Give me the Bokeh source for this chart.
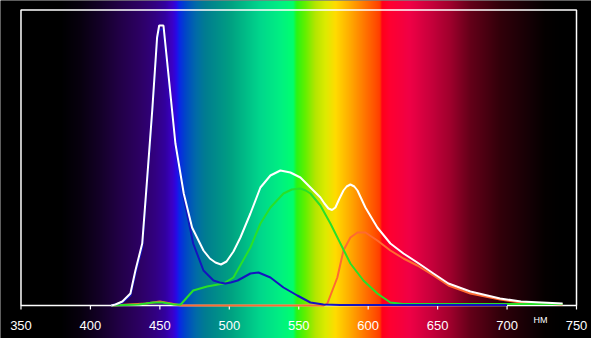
import numpy as np
from bokeh.plotting import figure
from bokeh.models import Range1d
from bokeh.core.properties import value
from bokeh.embed import file_html
from bokeh.resources import INLINE

# ---- data (wavelength in nm, intensity in arbitrary units) ----
white_nm = [415, 418, 423, 428.8, 432.4, 437.3, 440.9, 444.5, 448, 449.5, 452.6, 456.4, 461.2,
            467.2, 473.2, 481.4, 486, 490, 494, 498, 503, 508, 515.2, 522.4, 529.6, 536.8, 544,
            551.2, 558.4, 565.6, 568.5, 571.4, 574, 576.4, 579, 582.2, 584.5, 587.2, 590, 592.3,
            598, 606.6, 616, 625.4, 635.4, 647, 657.8, 673.6, 695, 710, 725, 740]
white_val = [0, 1, 4, 12, 35, 62, 128, 195, 268, 280, 280, 228, 162,
             112, 78, 55, 47, 43, 41, 44, 54, 68, 92, 118, 130, 135, 133,
             128, 118, 108, 102, 97, 95.5, 98, 106, 115, 119, 121, 119, 115,
             98, 78, 62, 52, 43, 32, 22, 14, 7, 4, 3, 2]

blue_nm = [415, 423, 428.8, 432.4, 437.3, 440.9, 444.5, 448, 449.5, 452.6, 456.4, 461.2, 467.2,
           474, 481.4, 488.6, 493, 497.2, 501, 506, 515.2, 521, 529.6, 539, 549, 558.4, 567.8,
           580, 700]
blue_val = [0, 3, 10, 32, 58, 124, 191, 264, 276, 276, 225, 160, 108,
            62, 35, 25, 23, 22, 23, 25, 32, 33, 28, 18, 10, 3, 1,
            0.5, 0.5]

green_nm = [415, 435, 445, 452, 460, 465, 474, 484, 495.8, 503, 515.2, 522.4, 529.6, 539, 545,
            551.2, 555, 558.4, 565.6, 572.8, 580, 587.2, 596.6, 606.6, 616, 625, 740]
green_val = [0, 1, 3, 3, 1, 1, 15, 19, 22, 28, 58, 82, 98, 112, 116,
             117, 115, 112, 100, 82, 62, 42, 25, 12, 3, 1.5, 1.5]

red_nm = [415, 440, 450, 458, 465, 568, 570.6, 577.8, 582.2, 587.2, 592.3, 598, 606.6, 616,
          625.4, 635.4, 647, 657.8, 673.6, 695, 710, 725, 740]
red_val = [0, 2, 4, 2, 0, 0, 2, 28, 55, 68, 73, 73, 65, 55,
           47, 40, 30, 20, 12, 6, 3, 2, 1]

tick_nm = [350, 400, 450, 500, 550, 600, 650, 700, 750]
tick_labels = ["350", "400", "450", "500", "550", "600", "650", "700", "750"]
unit_label = "HM"

# ---- background spectrum (style) ----
stops = [
    (335, (0, 0, 0)), (378, (0, 0, 0)), (392.8, (8, 0, 15)), (407, (20, 0, 40)),
    (421.6, (35, 0, 72)), (436, (45, 0, 100)), (447, (50, 0, 130)), (454, (50, 0, 160)),
    (459, (60, 0, 200)), (462, (40, 10, 230)), (464, (10, 40, 230)), (468.4, (0, 70, 200)),
    (475.6, (0, 105, 170)), (482.8, (0, 125, 145)), (500.8, (0, 160, 130)),
    (522.4, (0, 215, 140)), (536.8, (0, 240, 130)), (546, (0, 255, 110)),
    (548.5, (40, 245, 20)), (554.8, (100, 240, 0)), (562, (180, 230, 0)),
    (569.2, (220, 235, 0)), (576.4, (255, 220, 0)), (587.2, (255, 170, 0)),
    (598, (255, 115, 0)), (605, (255, 80, 0)), (608.5, (255, 60, 0)), (610, (255, 0, 25)),
    (616, (255, 0, 50)), (630, (240, 0, 70)), (645, (200, 0, 60)), (659, (160, 0, 45)),
    (673.6, (100, 0, 25)), (695, (50, 0, 10)), (717, (20, 0, 5)), (728, (5, 0, 0)),
    (740, (0, 0, 0)), (765, (0, 0, 0)),
]
X0, X1 = 335.25, 760.8
Y0, Y1 = -33, 305
W = 591
xs = X0 + (np.arange(W) + 0.5) * (X1 - X0) / W
sn = np.array([s[0] for s in stops])
r = np.interp(xs, sn, [s[1][0] for s in stops]).astype(np.uint32)
g = np.interp(xs, sn, [s[1][1] for s in stops]).astype(np.uint32)
b = np.interp(xs, sn, [s[1][2] for s in stops]).astype(np.uint32)
img = (255 << 24) | (b << 16) | (g << 8) | r
img = img.astype(np.uint32).reshape(1, W)

p = figure(width=591, height=338, x_range=Range1d(X0, X1), y_range=Range1d(Y0, Y1),
           min_border=0, toolbar_location=None, output_backend="svg")
p.axis.visible = False
p.grid.visible = False
p.outline_line_color = None
p.background_fill_color = "black"
p.border_fill_color = "black"

p.image_rgba(image=[img], x=X0, y=Y0, dw=X1 - X0, dh=Y1 - Y0)

# frame
p.quad(left=[350], right=[750], bottom=[0], top=[295.5], fill_alpha=0,
       line_color="white", line_width=1.5)
# ticks
p.segment(x0=tick_nm, y0=[0] * len(tick_nm), x1=tick_nm, y1=[-4] * len(tick_nm),
          line_color="white", line_width=1.2)
p.text(x=tick_nm, y=[-20] * len(tick_nm), text=tick_labels, text_color="white",
       text_font=value("Liberation Sans"), text_font_size="13px",
       text_align="center", text_baseline="middle")
p.text(x=[724], y=[-14], text=[unit_label], text_color="white",
       text_font=value("Liberation Sans"), text_font_size="9px",
       text_align="center", text_baseline="middle")

# curves
p.line(red_nm, red_val, line_color="#ff6a30", line_width=2)
p.line(green_nm, green_val, line_color="#28e028", line_width=2)
p.line(blue_nm, blue_val, line_color="#1414c0", line_width=2)
p.line(white_nm, white_val, line_color="white", line_width=2)

open("out.html", "w").write(file_html(p, INLINE))
